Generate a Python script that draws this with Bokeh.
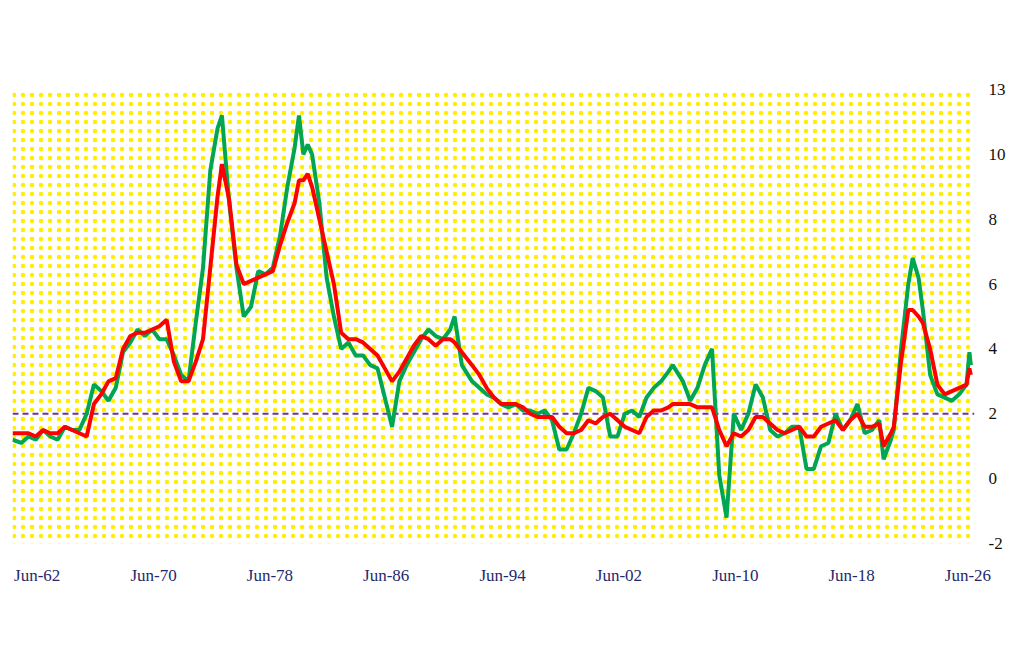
from bokeh.plotting import figure
from bokeh.models import BoxAnnotation, Label, Legend, LegendItem, FixedTicker
from bokeh.embed import file_html
from bokeh.resources import INLINE

t = [1960.4,1961,1961.5,1962,1962.5,1963,1963.5,1964,1964.5,1965,1965.5,1966,1966.5,1967,1967.5,1968,1968.5,1969,1969.5,1970,1970.5,1971,1971.5,1972,1972.5,1973,1973.5,1974,1974.5,1974.8,1975.3,1975.8,1976.3,1976.8,1977.3,1977.8,1978.3,1978.8,1979.3,1979.8,1980.1,1980.4,1980.7,1981,1981.5,1982,1982.5,1983,1983.5,1984,1984.5,1985,1985.5,1986,1986.5,1987,1987.5,1988,1988.5,1989,1989.5,1990,1990.5,1990.8,1991.3,1992,1992.5,1993,1993.5,1994,1994.5,1995,1995.5,1996,1996.5,1997,1997.5,1998,1998.5,1999,1999.5,2000,2000.5,2001,2001.5,2002,2002.5,2003,2003.5,2004,2004.5,2005,2005.5,2005.8,2006.5,2007,2007.5,2008,2008.5,2009,2009.5,2010,2010.5,2011,2011.5,2012,2012.5,2013,2013.5,2014,2014.5,2015,2015.5,2016,2016.5,2017,2017.5,2018,2018.5,2019,2019.5,2020,2020.3,2020.8,2021,2021.5,2022,2022.3,2022.7,2023,2023.5,2024,2024.5,2025,2025.5,2026,2026.2,2026.3]
headline = [1.2,1.1,1.3,1.2,1.5,1.3,1.2,1.6,1.5,1.5,2.0,2.9,2.7,2.4,2.8,3.9,4.2,4.6,4.4,4.6,4.3,4.3,3.8,3.2,3.0,4.8,6.5,9.5,10.8,11.2,8.5,6.5,5.0,5.3,6.4,6.3,6.5,7.5,9.0,10.2,11.2,10.0,10.3,10.0,8.5,6.2,5.0,4.0,4.2,3.8,3.8,3.5,3.4,2.5,1.6,3.0,3.5,3.9,4.3,4.6,4.4,4.3,4.6,5.0,3.5,3.0,2.8,2.6,2.5,2.3,2.2,2.3,2.1,2.1,2.0,2.1,1.8,0.9,0.9,1.4,2.0,2.8,2.7,2.5,1.3,1.3,2.0,2.1,1.9,2.5,2.8,3.0,3.3,3.5,3.0,2.4,2.8,3.5,4.0,0.1,-1.2,2.0,1.5,2.0,2.9,2.5,1.5,1.3,1.4,1.6,1.6,0.3,0.3,1.0,1.1,2.0,1.5,1.8,2.3,1.4,1.5,1.8,0.6,1.2,1.5,4.0,6.0,6.8,6.2,5.2,3.2,2.6,2.5,2.4,2.6,2.9,3.9,3.5]
core = [1.4,1.4,1.4,1.3,1.5,1.4,1.4,1.6,1.5,1.4,1.3,2.3,2.6,3.0,3.1,4.0,4.4,4.5,4.5,4.6,4.7,4.9,3.6,3.0,3.0,3.6,4.3,6.5,8.7,9.7,8.6,6.6,6.0,6.1,6.2,6.3,6.4,7.2,7.9,8.5,9.2,9.2,9.4,9.0,8.0,7.0,6.0,4.5,4.3,4.3,4.2,4.0,3.8,3.4,3.0,3.3,3.7,4.1,4.4,4.3,4.1,4.3,4.3,4.2,3.9,3.5,3.2,2.8,2.5,2.3,2.3,2.3,2.2,2.0,1.9,1.9,1.9,1.6,1.4,1.4,1.5,1.8,1.7,1.9,2.0,1.8,1.6,1.5,1.4,1.9,2.1,2.1,2.2,2.3,2.3,2.3,2.2,2.2,2.2,1.5,1.0,1.4,1.3,1.5,1.9,1.9,1.7,1.5,1.4,1.5,1.6,1.3,1.3,1.6,1.7,1.8,1.5,1.8,2.0,1.6,1.6,1.7,1.0,1.4,1.6,3.6,5.2,5.2,5.0,4.8,4.0,2.9,2.6,2.7,2.8,2.9,3.4,3.2]
x_ticks = [1962.1,1970.1,1978.1,1986.1,1994.1,2002.1,2010.1,2018.1,2026.1]
x_labels = ["Jun-62","Jun-70","Jun-78","Jun-86","Jun-94","Jun-02","Jun-10","Jun-18","Jun-26"]
y_ticks = [-2,0,2,4,6,8,10,12]
y_labels = ["-2","0","2","4","6","8","10","13"]
threshold = 2

FONT = "Liberation Serif"
p = figure(width=1008, height=634, x_range=(1960.4, 2026.55), y_range=(-2, 12),
           output_backend="svg", toolbar_location=None, y_axis_location="right",
           min_border_left=12, min_border_right=30, min_border_top=89, min_border_bottom=91)
p.outline_line_color = None
p.grid.visible = False
p.add_layout(BoxAnnotation(fill_color="white", fill_alpha=1, hatch_pattern="dot",
                           hatch_color="#FFEE00", hatch_scale=9, hatch_weight=2,
                           line_color=None, level="underlay"))
p.xaxis.ticker = FixedTicker(ticks=x_ticks)
p.xaxis.major_label_overrides = {k: v for k, v in zip(x_ticks, x_labels)}
p.yaxis.ticker = FixedTicker(ticks=y_ticks)
p.yaxis.major_label_overrides = {k: v for k, v in zip(y_ticks, y_labels)}
for ax in (p.xaxis, p.yaxis):
    ax.axis_line_color = None
    ax.major_tick_line_color = None
    ax.minor_tick_line_color = None
    ax.major_label_text_font = FONT
    ax.major_label_text_font_size = "17px"
p.xaxis.major_label_text_color = "#1F2A6B"
p.yaxis.major_label_text_color = "#111111"
p.xaxis.major_label_standoff = 16
p.yaxis.major_label_standoff = 8

r_thr = p.line([1960.4, 2026.55], [threshold, threshold], line_color="#7030A0", line_width=2, line_dash="6 4")
r_h = p.line(t, headline, line_color="#00A651", line_width=4)
r_c = p.line(t, core, line_color="#FF0000", line_width=4)

legend = Legend(items=[LegendItem(label="Headline", renderers=[r_h]),
                       LegendItem(label="Core", renderers=[r_c]),
                       LegendItem(label="2% threshold", renderers=[r_thr])],
                orientation="horizontal", location=(282, -70), border_line_color=None,
                background_fill_alpha=0, label_text_font=FONT, label_text_font_size="17px",
                glyph_width=55, spacing=18, label_standoff=8, margin=0, padding=4)
p.add_layout(legend, "center")

def lab(x, y, s, size, color="#000000", style="normal", align="left"):
    p.add_layout(Label(x=x, y=y, x_units="screen", y_units="screen", text=s,
                       text_font=FONT, text_font_size=size, text_color=color,
                       text_font_style=style, text_align=align, text_baseline="middle"))

# label y is measured from the frame bottom (frame spans 0..454 px)
lab(484, 454 + 89 - 37, "Slight dip in y/y rise in headline and core PCE in Jun,", "24px", style="bold", align="center")
lab(484, 454 + 89 - 65, "although comfortably above Fed's 2% goal for 5 years", "24px", style="bold", align="center")
lab(-10, 454 + 89 - 5, "Chart 5", "17px", color="#8B1A1A", style="bold")
lab(990, 454 + 89 - 8, "hedgopia.com", "17px", color="#444444", align="right")
lab(-2, -53, "Y/Y % change in US PCE inflation:", "17px")
lab(990, -82, "Source: BEA", "14px", align="right")

open("out.html", "w").write(file_html(p, INLINE))
